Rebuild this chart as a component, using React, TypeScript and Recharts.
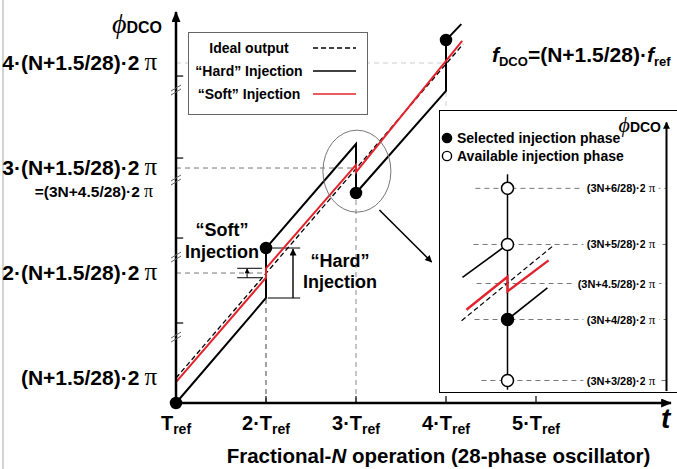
import React from "react";
import {
  ComposedChart,
  Line,
  Scatter,
  XAxis,
  YAxis,
  ReferenceLine,
  ReferenceDot,
  Legend,
} from "recharts";

const FONT = "'Liberation Sans', Arial, Helvetica, sans-serif";
const SERIF = "'Liberation Serif', 'DejaVu Serif', 'Times New Roman', serif";

// main chart: x in T_ref units, y in units of (N+1.5/28)·2π
const timeTicks = [1, 2, 3, 4, 5];
const timeTickPrefix = ["", "2·", "3·", "4·", "5·"];
const phaseTicks = [1, 2, 3, 4];
const phaseTickLabels = ["(N+1.5/28)·2", "2·(N+1.5/28)·2", "3·(N+1.5/28)·2", "4·(N+1.5/28)·2"];
const phaseTickNote = "=(3N+4.5/28)·2";

const idealT = [1, 4.19];
const idealPhase = [1.0, 4.18];
const hardT = [1, 2, 2, 3, 3, 4, 4, 4.17];
const hardPhase = [0.762, 1.762, 2.238, 3.229, 2.762, 3.735, 4.219, 4.37];
const softT = [1, 2, 2, 3, 3, 4.18];
const softPhase = [0.96, 1.955, 2.045, 3.03, 2.96, 4.21];
const injT = [1, 2, 3, 4];
const injPhase = [0.762, 2.238, 2.762, 4.219];

const levelGuides = [2, 3, 4];
const dropT = [2, 3, 4];
const dropPhase = [1.762, 2.762, 3.735];

const axisMinorTicks = [1.524, 2.333, 3.095, 3.876];
const axisBreaks = [1.39, 2.152, 2.886, 3.743];

const seriesNames = ["Ideal output", "“Hard” Injection", "“Soft” Injection"];

// inset (zoom around 3·T_ref), schematic units
const insetLevels = [0, 1.0, 1.59, 2.23, 3.15];
const insetLevelStart = [-0.87, -1.1, -1.03, -1.13, -1.07];
const insetLevelLabels = ["(3N+3/28)·2", "(3N+4/28)·2", "(3N+4.5/28)·2", "(3N+5/28)·2", "(3N+6/28)·2"];
const insetHardUpX = [-1.5, 0];
const insetHardUpY = [1.69, 2.23];
const insetHardDownX = [0, 1.33];
const insetHardDownY = [1.0, 1.52];
const insetSoftX = [-1.37, 0, 0, 1.37];
const insetSoftY = [1.16, 1.7, 1.46, 1.97];
const insetIdealX = [-1.53, 1.5];
const insetIdealY = [0.98, 2.2];
const selectedX = [0];
const selectedY = [1.0];
const availableX = [0, 0, 0];
const availableY = [0, 2.23, 3.15];
const insetLegendNames = ["Selected injection phase", "Available injection phase"];

const pts = (xs: number[], ys: number[]) => xs.map((x, i) => ({ x, y: ys[i] }));

const TimeTick = (props: any) => {
  const { x, y, payload } = props;
  const i = timeTicks.indexOf(payload.value);
  return (
    <g>
      {i > 0 && <line x1={x} y1={y} x2={x} y2={y - 7} stroke="#000" strokeWidth={1.2} />}
      <text x={x} y={y + 27} textAnchor="middle" fontFamily={FONT} fontWeight="bold" fontSize={20} fill="#000">
        {timeTickPrefix[i]}T
        <tspan fontSize={14} dy={4}>
          ref
        </tspan>
      </text>
    </g>
  );
};

const PhaseTick = (props: any) => {
  const { x, y, payload } = props;
  const i = phaseTicks.indexOf(payload.value);
  return (
    <g fontFamily={FONT} fontWeight="bold" textAnchor="end" fill="#000">
      <text x={x - 19} y={y + 7} fontSize={21}>
        {phaseTickLabels[i]}
        <tspan fontFamily={SERIF} fontWeight="normal" fontSize={25} dx={5}>
          π
        </tspan>
      </text>
      {payload.value === 3 && (
        <text x={x - 23} y={y + 29} fontSize={15.5}>
          {phaseTickNote}
          <tspan fontFamily={SERIF} fontWeight="normal" fontSize={18} dx={4}>
            π
          </tspan>
        </text>
      )}
    </g>
  );
};

const SeriesLegend = ({ payload }: any) => (
  <svg width={180} height={83} style={{ display: "block" }}>
    <rect x={0.5} y={0.5} width={179} height={82} fill="#fff" stroke="#666" />
    {(payload || []).map((e: any, i: number) => (
      <g key={e.value}>
        <text x={61} y={21 + i * 23} textAnchor="middle" fontFamily={FONT} fontWeight="bold" fontSize={14} fill="#000">
          {e.value}
        </text>
        <line
          x1={125}
          x2={168}
          y1={16 + i * 23}
          y2={16 + i * 23}
          stroke={e.color}
          strokeWidth={1.6}
          strokeDasharray={e.payload?.strokeDasharray}
        />
      </g>
    ))}
  </svg>
);

const InsetLegend = ({ payload }: any) => {
  const items = insetLegendNames
    .map((n) => (payload || []).find((e: any) => e.value === n))
    .filter(Boolean);
  return (
    <div style={{ fontFamily: FONT, fontWeight: "bold", fontSize: 14, lineHeight: "18px", color: "#000" }}>
      {items.map((e: any) => (
        <div key={e.value} style={{ display: "flex", alignItems: "center", whiteSpace: "nowrap" }}>
          <svg width={12} height={12} style={{ display: "block" }}>
            <circle cx={6} cy={6} r={4.6} fill={e.color} stroke="#000" strokeWidth={1.4} />
          </svg>
          <span style={{ marginLeft: 4 }}>{e.value}</span>
        </div>
      ))}
    </div>
  );
};

const textShape =
  (lines: React.ReactNode[], size: number, anchor: string, gap = 22) =>
  (p: any) =>
    (
      <text x={p.cx} y={p.cy} textAnchor={anchor} fontFamily={FONT} fontWeight="bold" fontSize={size} fill="#000">
        {lines.map((l, i) => (
          <tspan key={i} x={p.cx} dy={i === 0 ? 0 : gap}>
            {l}
          </tspan>
        ))}
      </text>
    );

const phiLabel = (size: number, sub: number) => (p: any) =>
  (
    <text x={p.cx} y={p.cy} fill="#000">
      <tspan fontFamily={SERIF} fontStyle="italic" fontSize={size}>
        ϕ
      </tspan>
      <tspan fontFamily={FONT} fontWeight="bold" fontSize={sub}>
        DCO
      </tspan>
    </text>
  );

const fdcoLabel = (p: any) => (
  <text x={p.cx} y={p.cy} fontFamily={FONT} fontWeight="bold" fontSize={21} fill="#000">
    <tspan fontStyle="italic">f</tspan>
    <tspan fontSize={13} dy={4}>
      DCO
    </tspan>
    <tspan dy={-4}>=(N+1.5/28)·</tspan>
    <tspan fontStyle="italic">f</tspan>
    <tspan fontSize={13} dy={4}>
      ref
    </tspan>
  </text>
);

const breakShape = (p: any) => (
  <g stroke="#666" strokeWidth={1}>
    <line x1={p.cx - 5} y1={p.cy + 1} x2={p.cx + 5} y2={p.cy - 5} />
    <line x1={p.cx - 5} y1={p.cy + 5} x2={p.cx + 5} y2={p.cy - 1} />
  </g>
);

const dotShape = (fill: string, r: number) => (p: any) =>
  <circle cx={p.cx} cy={p.cy} r={r} fill={fill} stroke="#000" strokeWidth={1.5} />;

const levelLabel = (label: string) => (p: any) =>
  (
    <text
      x={p.cx}
      y={p.cy + 4}
      textAnchor="end"
      fontFamily={FONT}
      fontWeight="bold"
      fontSize={11}
      fill="#000"
      stroke="#fff"
      strokeWidth={8}
      strokeLinejoin="round"
      paintOrder="stroke"
    >
      {label}
      <tspan fontFamily={SERIF} fontWeight="normal" fontSize={13} dx={3}>
        π
      </tspan>
    </text>
  );

export default function App() {
  const ideal = pts(idealT, idealPhase);
  const hard = pts(hardT, hardPhase);
  const soft = pts(softT, softPhase);
  const inj = pts(injT, injPhase);

  return (
    <div style={{ position: "absolute", left: 0, top: 0, width: 677, height: 469, background: "#fff", overflow: "hidden" }}>
      <svg width={0} height={0} style={{ position: "absolute" }}>
        <defs>
          <marker id="arrowBig" viewBox="0 0 12 10" refX="11" refY="5" markerWidth="12" markerHeight="9" markerUnits="userSpaceOnUse" orient="auto">
            <path d="M0,0 L12,5 L0,10 z" fill="#000" />
          </marker>
          <marker id="arrowMid" viewBox="0 0 10 10" refX="9" refY="5" markerWidth="9" markerHeight="7" markerUnits="userSpaceOnUse" orient="auto">
            <path d="M0,0 L10,5 L0,10 z" fill="#000" />
          </marker>
          <marker id="arrowSmall" viewBox="0 0 10 10" refX="9" refY="5" markerWidth="6" markerHeight="5" markerUnits="userSpaceOnUse" orient="auto">
            <path d="M0,0 L10,5 L0,10 z" fill="#000" />
          </marker>
        </defs>
      </svg>
      <div style={{ position: "absolute", left: 2, top: 0, width: 1.5, height: 469, background: "#d4d4d4" }} />

      <ComposedChart width={677} height={469} margin={{ top: 12, right: 6, bottom: 0, left: 0 }}>
        <XAxis
          type="number"
          dataKey="x"
          domain={[1, 6.5]}
          ticks={timeTicks}
          tick={<TimeTick />}
          axisLine={false}
          tickLine={false}
          tickSize={0}
          tickMargin={0}
          height={66}
          interval={0}
        />
        <YAxis
          type="number"
          dataKey="y"
          domain={[0.762, 4.486]}
          ticks={phaseTicks}
          tick={<PhaseTick />}
          axisLine={false}
          tickLine={false}
          tickSize={0}
          tickMargin={0}
          width={176}
          interval={0}
        />

        {levelGuides.map((lv, i) => (
          <ReferenceLine
            key={"lv" + lv}
            segment={[{ x: 1, y: lv }, { x: lv, y: lv }]}
            stroke={i === 2 ? "#cfcfcf" : "#777"}
            strokeDasharray="5 4"
            ifOverflow="visible"
          />
        ))}
        {dropT.map((t, i) => (
          <ReferenceLine
            key={"dr" + t}
            segment={[{ x: t, y: 0.762 }, { x: t, y: dropPhase[i] }]}
            stroke={i === 0 ? "#444" : i === 1 ? "#888" : "#cfcfcf"}
            strokeDasharray="5 4"
            ifOverflow="visible"
          />
        ))}

        {/* hard / soft injection step markers */}
        {[hardPhase[1], hardPhase[2]].map((v) => (
          <ReferenceLine key={"hm" + v} segment={[{ x: 2.02, y: v }, { x: 2.38, y: v }]} stroke="#000" strokeWidth={1} ifOverflow="visible" />
        ))}
        {[softPhase[1], softPhase[2]].map((v) => (
          <ReferenceLine key={"sm" + v} segment={[{ x: 1.68, y: v }, { x: 1.955, y: v }]} stroke="#000" strokeWidth={1} ifOverflow="visible" />
        ))}
        <ReferenceLine
          segment={[{ x: 2.3, y: hardPhase[1] }, { x: 2.3, y: hardPhase[2] - 0.01 }]}
          stroke="#000"
          strokeWidth={1.4}
          markerEnd="url(#arrowMid)"
          ifOverflow="visible"
        />
        <ReferenceLine
          segment={[{ x: 1.79, y: softPhase[1] }, { x: 1.79, y: softPhase[2] - 0.005 }]}
          stroke="#000"
          strokeWidth={1}
          markerEnd="url(#arrowSmall)"
          ifOverflow="visible"
        />

        <Line data={ideal} dataKey="y" name={seriesNames[0]} type="linear" stroke="#000" strokeWidth={1.3} strokeDasharray="5 3" dot={false} activeDot={false} isAnimationActive={false} />
        <Line data={hard} dataKey="y" name={seriesNames[1]} type="linear" stroke="#000" strokeWidth={2} dot={false} activeDot={false} isAnimationActive={false} />
        <Line data={soft} dataKey="y" name={seriesNames[2]} type="linear" stroke="#e3232c" strokeWidth={2} dot={false} activeDot={false} isAnimationActive={false} />
        <Scatter data={inj} legendType="none" shape={dotShape("#000", 5.5)} isAnimationActive={false} />

        {/* axes with arrows */}
        <ReferenceLine segment={[{ x: 1, y: 0.762 }, { x: 6.5, y: 0.762 }]} stroke="#000" strokeWidth={2.5} markerEnd="url(#arrowBig)" ifOverflow="visible" />
        <ReferenceLine segment={[{ x: 1, y: 0.762 }, { x: 1, y: 4.486 }]} stroke="#000" strokeWidth={2.5} markerEnd="url(#arrowBig)" ifOverflow="visible" />
        {axisMinorTicks.map((v) => (
          <ReferenceLine key={"mt" + v} segment={[{ x: 1, y: v }, { x: 1.08, y: v }]} stroke="#000" strokeWidth={1.2} ifOverflow="visible" />
        ))}
        {axisBreaks.map((v) => (
          <ReferenceDot key={"bk" + v} x={1} y={v} r={0} shape={breakShape} ifOverflow="visible" />
        ))}

        {/* zoom ellipse and pointer */}
        <ReferenceDot
          x={3.01}
          y={2.97}
          r={0}
          ifOverflow="visible"
          shape={(p: any) => <ellipse cx={p.cx} cy={p.cy} rx={34} ry={41} fill="none" stroke="#777" strokeWidth={1} />}
        />
        <ReferenceLine segment={[{ x: 3.26, y: 2.6 }, { x: 3.84, y: 2.105 }]} stroke="#000" strokeWidth={1.5} markerEnd="url(#arrowMid)" ifOverflow="visible" />

        {/* annotations */}
        <ReferenceDot x={1.51} y={2.352} r={0} ifOverflow="visible" shape={textShape(["“Soft”", "Injection"], 18, "middle")} />
        <ReferenceDot x={2.822} y={2.057} r={0} ifOverflow="visible" shape={textShape(["“Hard”", "Injection"], 18, "middle", 21)} />
        <ReferenceDot x={4.511} y={4.01} r={0} ifOverflow="visible" shape={fdcoLabel} />
        <ReferenceDot x={0.289} y={4.286} r={0} ifOverflow="visible" shape={phiLabel(28, 16)} />
        <ReferenceDot x={6.39} y={0.524} r={0} ifOverflow="visible" shape={(p: any) => (
          <text x={p.cx} y={p.cy} fontFamily={FONT} fontWeight="bold" fontStyle="italic" fontSize={28} fill="#000">t</text>
        )} />
        <ReferenceDot
          x={3.917}
          y={0.19}
          r={0}
          ifOverflow="visible"
          shape={textShape([<>Fractional-<tspan fontStyle="italic">N</tspan> operation (28-phase oscillator)</>], 20.5, "middle")}
        />

        <Legend
          verticalAlign="middle"
          align="center"
          layout="horizontal"
          content={<SeriesLegend />}
          wrapperStyle={{ left: 188, top: 32, width: 180, height: 83 }}
        />
      </ComposedChart>

      <div
        style={{
          position: "absolute",
          left: 439,
          top: 110,
          width: 240,
          height: 283,
          border: "1.5px solid #000",
          boxSizing: "border-box",
          background: "#fff",
        }}
      >
        <ComposedChart width={237} height={280} margin={{ top: 0, right: 0, bottom: 0, left: 0 }}>
          <XAxis type="number" dataKey="x" domain={[-2.25, 5.65]} hide />
          <YAxis type="number" dataKey="y" domain={[-0.172, 4.418]} hide />

          {insetLevels.map((lv, i) => (
            <ReferenceLine
              key={"il" + i}
              segment={[{ x: insetLevelStart[i], y: lv }, { x: 5.3, y: lv }]}
              stroke="#777"
              strokeDasharray="5 4"
              ifOverflow="visible"
            />
          ))}
          {insetLevels.map((lv, i) => (
            <ReferenceDot key={"it" + i} x={4.93} y={lv} r={0} ifOverflow="visible" shape={levelLabel(insetLevelLabels[i])} />
          ))}
          <ReferenceLine segment={[{ x: 0, y: -0.15 }, { x: 0, y: 3.38 }]} stroke="#000" strokeWidth={1.5} ifOverflow="visible" />
          <ReferenceLine segment={[{ x: 5.3, y: -0.172 }, { x: 5.3, y: 4.23 }]} stroke="#000" strokeWidth={2} markerEnd="url(#arrowMid)" ifOverflow="visible" />

          <Line data={pts(insetIdealX, insetIdealY)} dataKey="y" legendType="none" type="linear" stroke="#000" strokeWidth={1.2} strokeDasharray="5 3" dot={false} activeDot={false} isAnimationActive={false} />
          <Line data={pts(insetHardUpX, insetHardUpY)} dataKey="y" legendType="none" type="linear" stroke="#000" strokeWidth={1.6} dot={false} activeDot={false} isAnimationActive={false} />
          <Line data={pts(insetHardDownX, insetHardDownY)} dataKey="y" legendType="none" type="linear" stroke="#000" strokeWidth={1.6} dot={false} activeDot={false} isAnimationActive={false} />
          <Line data={pts(insetSoftX, insetSoftY)} dataKey="y" legendType="none" type="linear" stroke="#e3232c" strokeWidth={2.4} dot={false} activeDot={false} isAnimationActive={false} />

          <Scatter name={insetLegendNames[0]} data={pts(selectedX, selectedY)} fill="#000" shape={dotShape("#000", 6)} isAnimationActive={false} />
          <Scatter name={insetLegendNames[1]} data={pts(availableX, availableY)} fill="#fff" shape={dotShape("#fff", 6)} isAnimationActive={false} />

          <ReferenceDot x={3.7} y={4.08} r={0} ifOverflow="visible" shape={phiLabel(22, 14)} />

          <Legend
            verticalAlign="middle"
            align="center"
            layout="horizontal"
            content={<InsetLegend />}
            wrapperStyle={{ left: 1, top: 18, width: 210 }}
          />
        </ComposedChart>
      </div>
    </div>
  );
}
